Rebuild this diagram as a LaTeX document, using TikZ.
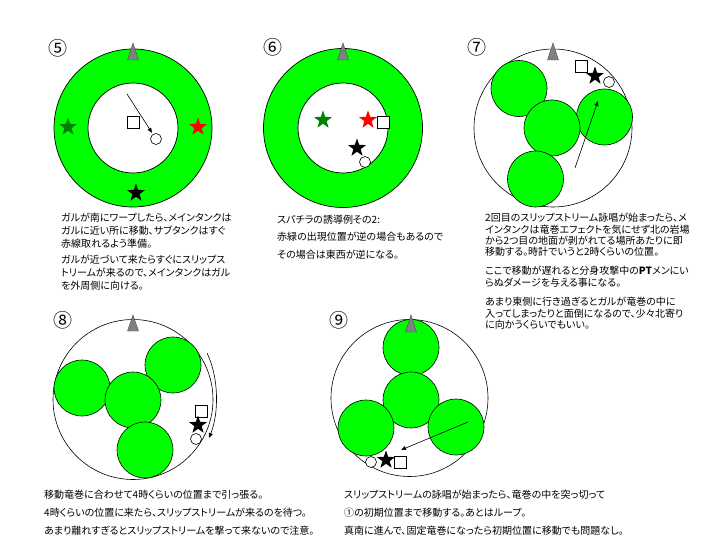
\documentclass[tikz,border=0pt]{standalone}
\usepackage{fontspec}
\newfontfamily\jp[RawFeature=+palt]{Noto Sans CJK JP}
\usetikzlibrary{shapes.geometric,arrows.meta}
\definecolor{limeg}{RGB}{0,255,0}
\definecolor{darkg}{RGB}{0,128,0}
\definecolor{redst}{RGB}{255,0,0}
\definecolor{grayt}{RGB}{128,128,128}
\tikzset{
  ring/.style={draw=black, line width=0.7pt, fill=limeg, even odd rule},
  arena/.style={circle, draw=black, line width=0.6pt, fill=white, inner sep=0pt},
  blob/.style={circle, draw=black, line width=0.6pt, fill=limeg, minimum size=56pt, inner sep=0pt},
  pstar/.style={star, star points=5, star point ratio=2.5, minimum size=19pt, inner sep=0pt},
  sq/.style={rectangle, draw=black, fill=white, minimum size=12pt, inner sep=0pt, line width=0.6pt},
  ci/.style={circle, draw=black, fill=white, minimum size=11pt, inner sep=0pt, line width=0.6pt},
  num/.style={font=\jp\fontsize{19}{19}\selectfont, inner sep=0pt},
  txt/.style={anchor=west, inner sep=0pt, font=\jp\fontsize{10}{10}\selectfont},
  arr/.style={-{Triangle[length=5pt,width=4pt]}, line width=0.6pt},
  tri/.style={fill=grayt, draw=black!70, line width=0.4pt}
}
\begin{document}
\begin{tikzpicture}[x=1pt,y=-1pt]
\useasboundingbox (0,0) rectangle (720,540);
% ---------- panel 5 ----------
\node[num] (n5) at (58,48) {⑤};
\draw[ring] (133,128) circle[radius=79pt] (133,128) circle[radius=45pt];
\draw[tri] (133,43) -- (138.5,60) -- (127.5,60) -- cycle;
\node[pstar, fill=darkg] (g5) at (68,127) {};
\node[pstar, fill=redst] (r5) at (198,127) {};
\node[pstar, fill=black] (k5) at (136,193) {};
\node[sq] (s5) at (133,122) {};
\node[ci] (c5) at (156,139) {};
\coordinate (a5) at (127,94);
\draw[arr, shorten >=1.5pt] (a5) -- (c5);
\node[txt] (t5a) at (61,218) {ガルが南にワープしたら、メインタンクは};
\node[txt] (t5b) at (61,231) {ガルに近い所に移動、サブタンクはすぐ};
\node[txt] (t5c) at (61,244) {赤線取れるよう準備。};
\node[txt] (t5d) at (61,260) {ガルが近づいて来たらすぐにスリップス};
\node[txt] (t5e) at (61,273) {トリームが来るので、メインタンクはガル};
\node[txt] (t5f) at (61,286) {を外周側に向ける。};
% ---------- panel 6 ----------
\node[num] (n6) at (273,47) {⑥};
\draw[ring] (343,128) circle[radius=79.5pt] (343,128) circle[radius=45pt];
\draw[tri] (343,43) -- (348.5,60) -- (337.5,60) -- cycle;
\node[pstar, fill=darkg] (g6) at (323,120) {};
\node[pstar, fill=redst] (r6) at (368,120) {};
\node[sq] (s6) at (383,122) {};
\node[pstar, fill=black] (k6) at (357,148) {};
\node[ci] (c6) at (365,162) {};
\node[txt] (t6a) at (277,220) {スパチラの誘導例その2:};
\node[txt] (t6b) at (277,237) {赤緑の出現位置が逆の場合もあるので};
\node[txt] (t6c) at (277,255) {その場合は東西が逆になる。};
% ---------- panel 7 ----------
\node[num] (n7) at (477,47) {⑦};
\node[arena, minimum size=158pt] (o7) at (553,128) {};
\node[blob] (b7a) at (519,88.5) {};
\node[blob] (b7c) at (604.5,117) {};
\node[blob] (b7b) at (552,128) {};
\node[blob] (b7d) at (535.5,179) {};
\draw[tri] (553,43) -- (558.5,60) -- (547.5,60) -- cycle;
\node[sq] (s7) at (581,66) {};
\node[pstar, fill=black] (k7) at (595,76) {};
\node[ci] (c7) at (609,82) {};
\coordinate (a7s) at (575,168);
\coordinate (a7e) at (598,101);
\draw[arr] (a7s) -- (a7e);
\node[txt] (t7a) at (485,218) {2回目のスリップストリーム詠唱が始まったら、メ};
\node[txt] (t7b) at (485,229.5) {インタンクは竜巻エフェクトを気にせず北の岩場};
\node[txt] (t7c) at (485,241) {から2つ目の地面が剥がれてる場所あたりに即};
\node[txt] (t7d) at (485,252) {移動する。時計でいうと2時くらいの位置。};
\node[txt] (t7e) at (485,271) {ここで移動が遅れると分身攻撃中の{\bfseries PT}メンにい};
\node[txt] (t7f) at (485,282.5) {らぬダメージを与える事になる。};
\node[txt] (t7g) at (485,302) {あまり東側に行き過ぎるとガルが竜巻の中に};
\node[txt] (t7h) at (485,313.5) {入ってしまったりと面倒になるので、少々北寄り};
\node[txt] (t7i) at (485,324.5) {に向かうくらいでもいい。};
% ---------- panel 8 ----------
\node[num] (n8) at (63,320) {⑧};
\node[arena, minimum size=160pt] (o8) at (133,399.5) {};
\node[blob] (b8a) at (82,388) {};
\node[blob] (b8c) at (173,365) {};
\node[blob] (b8b) at (133,400) {};
\node[blob] (b8d) at (145,450) {};
\draw[tri] (133,315) -- (138.5,331) -- (127.5,331) -- cycle;
\node[sq] (s8) at (201,411) {};
\node[ci] (c8) at (196,439) {};
\node[pstar, fill=black] (k8) at (198,425) {};
\coordinate (a8s) at (207,353);
\coordinate (a8e) at (209,438);
\draw[arr] (a8s) .. controls (219,378) and (219,413) .. (a8e);
\node[txt] (t8a) at (44,495) {移動竜巻に合わせて4時くらいの位置まで引っ張る。};
\node[txt] (t8b) at (44,513) {4時くらいの位置に来たら、スリップストリームが来るのを待つ。};
\node[txt] (t8c) at (44,531) {あまり離れすぎるとスリップストリームを撃って来ないので注意。};
% ---------- panel 9 ----------
\node[num] (n9) at (339,320) {⑨};
\node[arena, minimum size=157pt] (o9) at (409.5,398) {};
\node[blob] (b9t) at (411,347.5) {};
\node[blob] (b9m) at (411,400) {};
\node[blob] (b9l) at (366,428) {};
\node[blob] (b9r) at (456,427) {};
\draw[tri] (411,315) -- (416.5,332) -- (405.5,332) -- cycle;
\node[ci] (c9) at (371,462) {};
\node[pstar, fill=black] (k9) at (386,460) {};
\node[sq] (s9) at (400,462) {};
\coordinate (a9s) at (468,422);
\coordinate (a9e) at (401,450);
\draw[arr] (a9s) -- (a9e);
\node[txt] (t9a) at (344,495) {スリップストリームの詠唱が始まったら、竜巻の中を突っ切って};
\node[txt] (t9b) at (344,513) {①の初期位置まで移動する。あとはループ。};
\node[txt] (t9c) at (344,531) {真南に進んで、固定竜巻になったら初期位置に移動でも問題なし。};
\end{tikzpicture}
\end{document}
